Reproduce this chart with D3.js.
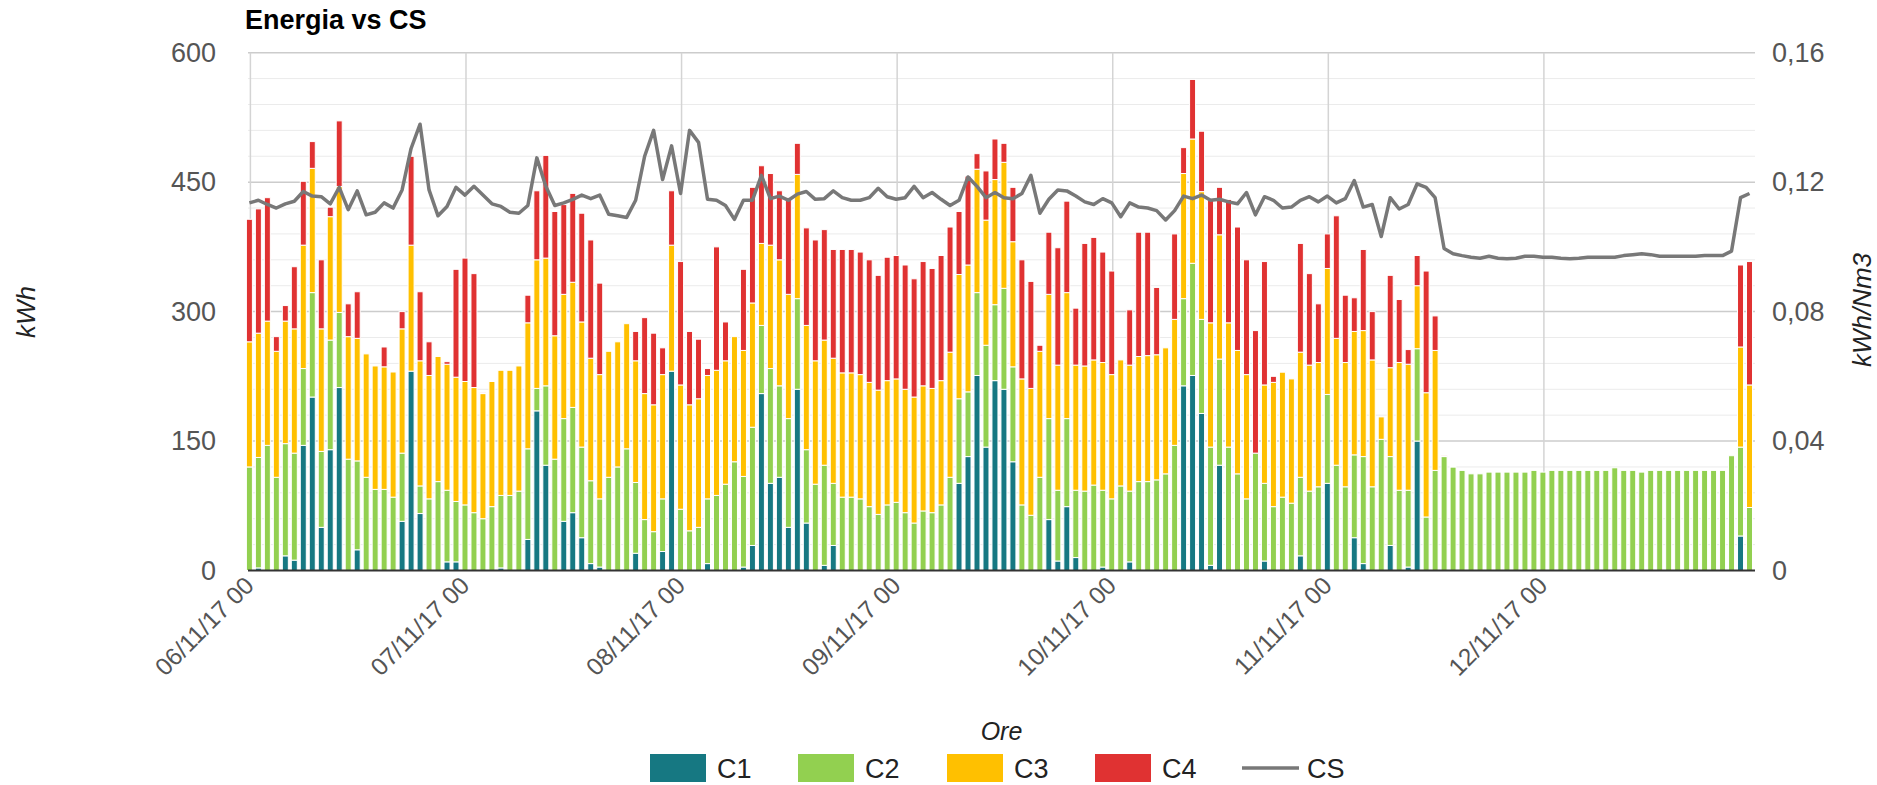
<!DOCTYPE html>
<html>
<head>
    <meta charset="utf-8">
    <script src="https://cdn.jsdelivr.net/npm/d3@7"></script>
    <style>
      body { margin: 0; background: #fff; }
      text { font-family: Arial, "Liberation Sans", sans-serif; }
    </style>
    <script type="text/javascript">
    "use strict";

    // Hourly energy per compressor (kWh), from 06/11/17 00 to 12/11/17 23.
    var c1 = [
      0,3,0,0,17,12,145,201,50,140,212,0,24,0,0,0,0,57,231,66,0,0,10,10,
      0,0,0,0,3,0,0,36,185,122,0,57,67,38,8,4,0,0,0,20,0,0,22,231,
      0,0,0,8,0,0,0,4,29,205,101,108,50,210,55,0,6,29,0,0,0,0,0,0,
      0,0,0,0,0,0,0,101,132,226,143,220,210,126,0,0,0,59,11,74,15,0,0,4,
      0,0,10,0,0,0,0,0,214,226,182,6,122,0,0,0,0,11,0,0,0,17,0,0,
      101,0,0,38,8,0,0,29,0,4,150,0,0,0,0,0,0,0,0,0,0,0,0,0,
      0,0,0,0,0,0,0,0,0,0,0,0,0,0,0,0,0,0,0,0,0,0,40,0
    ];
    var c2 = [
      120,128,145,108,130,124,89,121,88,127,87,129,103,108,94,94,85,79,0,32,83,103,83,70,
      76,67,60,74,84,87,92,105,26,92,129,119,122,105,96,79,108,120,141,82,59,45,61,0,
      71,46,50,75,87,100,126,105,137,79,133,106,126,105,85,100,116,72,85,85,83,74,65,76,
      79,67,55,69,67,76,108,98,75,96,118,88,117,110,76,64,108,117,82,102,78,92,99,89,
      83,98,82,103,103,105,112,145,101,130,109,137,123,143,112,83,136,90,74,85,78,91,92,97,
      103,122,97,96,124,97,152,103,93,89,107,62,116,132,120,116,112,112,114,114,114,114,114,116,
      114,116,116,116,116,116,116,116,119,116,116,114,116,116,116,116,116,116,116,116,116,133,103,73
    ];
    var c3 = [
      145,144,144,146,142,144,143,144,142,143,146,142,142,143,143,142,145,144,146,145,143,145,146,144,
      143,145,145,145,145,145,145,146,149,148,143,144,145,145,142,144,146,145,145,141,146,147,144,146,
      144,146,149,143,145,143,145,146,144,95,143,146,144,144,144,143,145,145,144,144,144,144,144,144,
      143,143,146,145,144,144,145,144,147,143,145,145,146,145,146,147,146,144,145,146,145,145,145,148,
      144,146,146,145,146,145,146,146,145,144,148,144,144,144,143,144,0,114,144,145,144,145,146,144,
      146,147,144,143,146,147,26,103,148,146,73,144,139,0,0,0,0,0,0,0,0,0,0,0,
      0,0,0,0,0,0,0,0,0,0,0,0,0,0,0,0,0,0,0,0,0,0,116,142
    ];
    var c4 = [
      142,144,143,17,18,72,74,31,80,11,76,38,54,0,0,23,0,20,103,80,39,0,3,125,
      143,132,1,0,0,0,0,32,80,119,144,104,103,126,137,106,0,0,0,34,88,83,31,63,
      143,85,69,8,143,45,0,94,134,90,83,80,112,36,113,140,128,126,143,143,142,142,133,143,
      143,144,137,144,139,145,145,73,103,18,57,47,22,63,138,124,7,72,136,106,66,142,142,128,
      120,0,64,144,143,78,0,99,30,69,70,142,55,143,143,133,142,143,7,1,0,126,106,68,
      40,142,78,39,94,56,0,107,73,17,35,141,40,1,1,0,0,0,0,0,0,0,0,0,
      0,0,0,0,0,0,0,0,0,0,0,0,0,0,0,0,0,0,0,0,0,0,95,143
    ];
    // Specific consumption (kWh/Nm3), right axis.
    var cs = [
      0.1136,0.1144,0.1131,0.1120,0.1133,0.1141,0.1171,0.1157,0.1155,0.1133,0.1184,0.1115,
      0.1173,0.1099,0.1107,0.1136,0.1120,0.1176,0.1304,0.1379,0.1176,0.1096,0.1125,0.1184,
      0.1160,0.1187,0.1160,0.1133,0.1125,0.1107,0.1104,0.1128,0.1275,0.1187,0.1128,0.1136,
      0.1147,0.1160,0.1149,0.1160,0.1101,0.1096,0.1091,0.1144,0.1280,0.1360,0.1208,0.1312,
      0.1165,0.1360,0.1323,0.1147,0.1144,0.1128,0.1085,0.1144,0.1144,0.1221,0.1149,0.1157,
      0.1144,0.1163,0.1171,0.1147,0.1149,0.1173,0.1152,0.1144,0.1144,0.1152,0.1181,0.1155,
      0.1147,0.1152,0.1187,0.1152,0.1168,0.1147,0.1128,0.1144,0.1216,0.1187,0.1152,0.1168,
      0.1152,0.1149,0.1165,0.1221,0.1104,0.1147,0.1176,0.1173,0.1157,0.1139,0.1131,0.1149,
      0.1136,0.1093,0.1136,0.1123,0.1120,0.1112,0.1083,0.1112,0.1157,0.1149,0.1160,0.1144,
      0.1147,0.1139,0.1133,0.1168,0.1099,0.1155,0.1144,0.1120,0.1123,0.1144,0.1155,0.1139,
      0.1157,0.1136,0.1149,0.1205,0.1123,0.1131,0.1032,0.1152,0.1117,0.1131,0.1195,0.1184,
      0.1152,0.0995,0.0979,0.0973,0.0968,0.0965,0.0971,0.0965,0.0963,0.0965,0.0971,0.0971,
      0.0968,0.0968,0.0965,0.0963,0.0965,0.0968,0.0968,0.0968,0.0968,0.0973,0.0976,0.0979,
      0.0976,0.0971,0.0971,0.0971,0.0971,0.0971,0.0973,0.0973,0.0973,0.0987,0.1152,0.1165
    ];
    var seriesNames = ["C1", "C2", "C3", "C4"];
    var colors = ["#167882", "#92d050", "#ffc000", "#e03232"];
    var leftTicks = [0, 150, 300, 450, 600];
    var rightTicks = [0, 0.04, 0.08, 0.12, 0.16];
    var startDate = new Date(2017, 10, 6, 0, 0, 0);

    function draw() {
      var width = 1877, height = 785;
      var left = 248, right = 1755, top = 52.7, bottom = 570.5;

      var svg = d3.select("body").append("svg")
          .attr("width", width)
          .attr("height", height);

      // Table built from the series arrays.
      var rows = c1.map(function(d, i) {
        return {
          date: d3.timeHour.offset(startDate, i),
          C1: c1[i], C2: c2[i], C3: c3[i], C4: c4[i], CS: cs[i]
        };
      });

      var x = d3.scaleTime()
          .domain([d3.timeMinute.offset(startDate, -16), d3.timeMinute.offset(startDate, 167 * 60 + 30)])
          .range([left, right]);
      var y = d3.scaleLinear().domain([0, 600]).range([bottom, top]);
      var y2 = d3.scaleLinear().domain([0, 0.16]).range([bottom, top]);

      // Minor and major horizontal gridlines.
      var minor = d3.range(30, 600, 30).filter(function(v) { return v % 150 !== 0; });
      svg.append("g").selectAll("line").data(minor).enter().append("line")
          .attr("x1", left).attr("x2", right)
          .attr("y1", function(d) { return y(d); }).attr("y2", function(d) { return y(d); })
          .attr("stroke", "#ebebeb").attr("stroke-width", 1);
      svg.append("g").selectAll("line").data([150, 300, 450, 600]).enter().append("line")
          .attr("x1", left).attr("x2", right)
          .attr("y1", function(d) { return y(d); }).attr("y2", function(d) { return y(d); })
          .attr("stroke", "#cccccc").attr("stroke-width", 1.5);

      // Vertical gridlines, one per day.
      var days = x.ticks(d3.timeDay.every(1));
      svg.append("g").selectAll("line").data(days).enter().append("line")
          .attr("x1", function(d) { return x(d); }).attr("x2", function(d) { return x(d); })
          .attr("y1", top).attr("y2", bottom)
          .attr("stroke", "#d4d4d4").attr("stroke-width", 1.5);

      // Stacked bars.
      var stack = d3.stack().keys(seriesNames)(rows);
      var barW = 6;
      svg.append("g").selectAll("g").data(stack).enter().append("g")
          .attr("fill", function(d, i) { return colors[i]; })
        .selectAll("rect").data(function(d) { return d; }).enter()
          .filter(function(d) { return d[1] - d[0] > 0; })
          .append("rect")
          .attr("x", function(d) { return x(d.data.date) - 1 - barW / 2; })
          .attr("y", function(d) { return y(d[1]); })
          .attr("width", barW)
          .attr("height", function(d) { return y(d[0]) - y(d[1]); })
          .attr("stroke", "#fff")
          .attr("stroke-width", 1);

      // Baseline.
      svg.append("line")
          .attr("x1", left).attr("x2", right)
          .attr("y1", y(0)).attr("y2", y(0))
          .attr("stroke", "#333").attr("stroke-width", 2);

      // CS line on the right axis.
      var line = d3.line()
          .x(function(d) { return x(d.date) - 1; })
          .y(function(d) { return y2(d.CS); });
      svg.append("path")
          .datum(rows)
          .attr("d", line)
          .attr("fill", "none")
          .attr("stroke", "#787878")
          .attr("stroke-width", 3.5)
          .attr("stroke-linejoin", "round");

      // Left axis.
      var yAxis = d3.axisLeft(y).tickValues(leftTicks).tickSize(0).tickPadding(32);
      var gl = svg.append("g").attr("transform", "translate(" + left + ",0)").call(yAxis);
      gl.select(".domain").remove();
      gl.selectAll("text").style("font-size", "27px").attr("fill", "#555");

      // Right axis.
      var y2Axis = d3.axisRight(y2).tickValues(rightTicks).tickSize(0).tickPadding(17)
          .tickFormat(function(d) { return d === 0 ? "0" : d3.format(".2f")(d).replace(".", ","); });
      var gr = svg.append("g").attr("transform", "translate(" + right + ",0)").call(y2Axis);
      gr.select(".domain").remove();
      gr.selectAll("text").style("font-size", "27px").attr("fill", "#555");

      // X axis labels, rotated.
      var fmt = d3.timeFormat("%d/%m/%y %H");
      svg.append("g").selectAll("text").data(days).enter().append("text")
          .attr("transform", function(d) { return "translate(" + (x(d) + 5) + ",587) rotate(-45)"; })
          .attr("text-anchor", "end")
          .style("font-size", "24.5px")
          .attr("fill", "#555")
          .text(function(d) { return fmt(d); });

      // Title and axis titles.
      svg.append("text")
          .attr("x", 245).attr("y", 29)
          .style("font-size", "27px").style("font-weight", "bold")
          .attr("fill", "#000")
          .text("Energia vs CS");
      svg.append("text")
          .attr("transform", "translate(35,312) rotate(-90)")
          .attr("text-anchor", "middle")
          .style("font-size", "26px").style("font-style", "italic")
          .attr("fill", "#222")
          .text("kWh");
      svg.append("text")
          .attr("transform", "translate(1871,310) rotate(-90)")
          .attr("text-anchor", "middle")
          .style("font-size", "26px").style("font-style", "italic")
          .attr("fill", "#222")
          .text("kWh/Nm3");
      svg.append("text")
          .attr("x", (left + right) / 2).attr("y", 740)
          .attr("text-anchor", "middle")
          .style("font-size", "25px").style("font-style", "italic")
          .attr("fill", "#222")
          .text("Ore");

      // Legend.
      var legendX = [650, 798, 947, 1095];
      var lg = svg.append("g");
      seriesNames.forEach(function(name, i) {
        lg.append("rect")
            .attr("x", legendX[i]).attr("y", 754)
            .attr("width", 56).attr("height", 28)
            .attr("fill", colors[i]);
        lg.append("text")
            .attr("x", legendX[i] + 67).attr("y", 778)
            .style("font-size", "27px")
            .attr("fill", "#222")
            .text(name);
      });
      lg.append("line")
          .attr("x1", 1242).attr("x2", 1299)
          .attr("y1", 768).attr("y2", 768)
          .attr("stroke", "#787878").attr("stroke-width", 3.5);
      lg.append("text")
          .attr("x", 1307).attr("y", 778)
          .style("font-size", "27px")
          .attr("fill", "#222")
          .text("CS");
    }
    </script>
</head>
<body>
    <script type="text/javascript">
    draw();
    </script>
</body>
</html>
